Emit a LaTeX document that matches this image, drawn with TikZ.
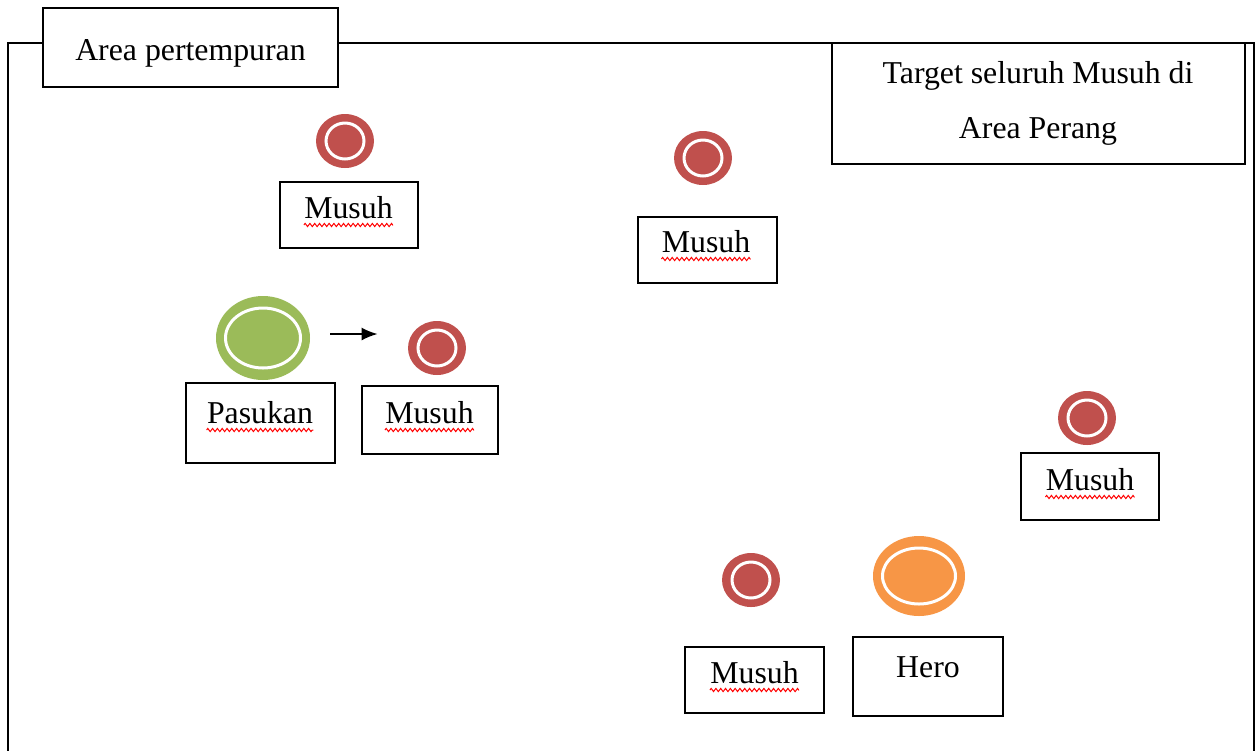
\documentclass[tikz,border=0pt]{standalone}
\usepackage{fontspec}
\setmainfont{Liberation Serif}
\usetikzlibrary{shapes.geometric,fit,decorations.pathmorphing,arrows.meta,calc}
\definecolor{enemyred}{HTML}{C0504D}
\definecolor{troopgreen}{HTML}{9BBB59}
\definecolor{heroorange}{HTML}{F79646}
\begin{document}
\begin{tikzpicture}[x=0.5pt,y=-0.5pt,
  frame/.style={line width=1.1pt},
  box/.style={draw, line width=1pt, inner sep=0pt},
  lbl/.style={font=\fontsize{15.9pt}{19pt}\selectfont, inner sep=0pt, anchor=base},
  wavy/.style={draw=red, line width=0.5pt, decorate, decoration={zigzag, segment length=2.4pt, amplitude=0.8pt}},
  enemy/.style={ellipse, fill=enemyred, draw=none, minimum width=29pt, minimum height=27pt, inner sep=0pt,
    path picture={\draw[white, line width=1.5pt] (path picture bounding box.center) ellipse (9.5pt and 9pt);}},
  troop/.style={ellipse, fill=troopgreen, draw=none, minimum width=47pt, minimum height=42pt, inner sep=0pt,
    path picture={\draw[white, line width=1.5pt] (path picture bounding box.center) ellipse (18.75pt and 15pt);}},
  hero/.style={ellipse, fill=heroorange, draw=none, minimum width=46pt, minimum height=40pt, inner sep=0pt,
    path picture={\draw[white, line width=1.5pt] (path picture bounding box.center) ellipse (18.25pt and 14pt);}},
  arr/.style={line width=0.9pt, -{Latex[length=8pt,width=6.5pt]}}
]
\useasboundingbox (0,0) rectangle (1258,751);

% outer frame
\draw[frame] (43,43) -- (8,43) -- (8,751);
\draw[frame] (338,43) -- (1254,43) -- (1254,751);

% title box
\node[box, fill=white, fit={(43,8) (338,87)}] (title) {};
\node[lbl] (titlet) at (190.5,60) {Area pertempuran};

% target box
\node[box, fill=white, fit={(832,43) (1245,164)}] (target) {};
\node[lbl] (target1) at (1038,83) {Target seluruh Musuh di};
\node[lbl] (target2) at (1038,138) {Area Perang};

% enemy 1
\node[enemy] (e1) at (345,141) {};
\node[box, fit={(280,182) (418,248)}] (m1) {};
\node[lbl] (m1t) at (348.5,218) {Musuh};
\draw[wavy] ([yshift=-3.5pt]m1t.base west) -- ([yshift=-3.5pt]m1t.base east);

% enemy 2
\node[enemy] (e2) at (703,158) {};
\node[box, fit={(638,217) (777,283)}] (m2) {};
\node[lbl] (m2t) at (706,252) {Musuh};
\draw[wavy] ([yshift=-3.5pt]m2t.base west) -- ([yshift=-3.5pt]m2t.base east);

% troop
\node[troop] (p) at (263,338) {};
\node[box, fit={(186,383) (335,463)}] (pb) {};
\node[lbl] (pt) at (260,423) {Pasukan};
\draw[wavy] ([yshift=-3.5pt]pt.base west) -- ([yshift=-3.5pt]pt.base east);

% enemy 3
\node[enemy] (e3) at (437,348) {};
\node[box, fit={(362,386) (498,454)}] (m3) {};
\node[lbl] (m3t) at (429.5,423) {Musuh};
\draw[wavy] ([yshift=-3.5pt]m3t.base west) -- ([yshift=-3.5pt]m3t.base east);

\draw[arr] ($(p.east)+(20,-4)$) -- ($(e3.west)+(-30,-14)$);

% enemy 4
\node[enemy] (e4) at (1087,418) {};
\node[box, fit={(1021,453) (1159,520)}] (m4) {};
\node[lbl] (m4t) at (1090,490) {Musuh};
\draw[wavy] ([yshift=-3.5pt]m4t.base west) -- ([yshift=-3.5pt]m4t.base east);

% enemy 5
\node[enemy] (e5) at (751,580) {};
\node[box, fit={(685,647) (824,713)}] (m5) {};
\node[lbl] (m5t) at (754.5,683) {Musuh};
\draw[wavy] ([yshift=-3.5pt]m5t.base west) -- ([yshift=-3.5pt]m5t.base east);

% hero
\node[hero] (h) at (919,576) {};
\node[box, fit={(853,637) (1003,716)}] (hb) {};
\node[lbl] (ht) at (928,677) {Hero};
\end{tikzpicture}
\end{document}
